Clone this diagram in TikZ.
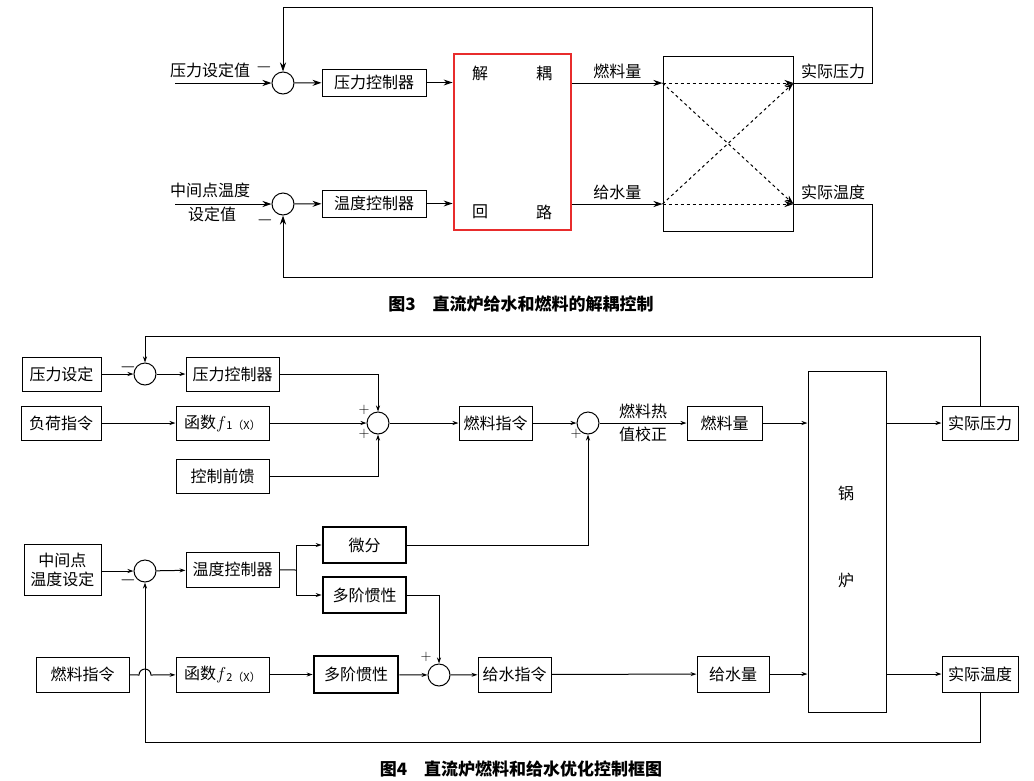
\documentclass[tikz,border=0pt]{standalone}
\usepackage{fontspec}
\setmainfont{Noto Sans CJK SC}
\usetikzlibrary{arrows.meta,calc}
\definecolor{decred}{RGB}{232,44,44}
\tikzset{every picture/.style={line width=1pt}}
\tikzset{
  blk/.style={draw,inner sep=0,minimum height=34},
  thk/.style={blk,line width=2.6pt},
  sumc/.style={circle,draw,inner sep=0,minimum size=22},
  arr/.style={-{Stealth[length=9pt,width=6pt]}},
  arrs/.style={-{Stealth[length=6pt,width=4pt]}},
  sgn/.style={inner sep=0,font=\fontsize{14}{14}\selectfont},
  neg/.style={inner sep=0,font=\fontsize{20}{20}\selectfont},
  captxt/.style={font=\fontsize{17}{20}\selectfont\bfseries}
}

\begin{document}
\begin{tikzpicture}[x=1pt,y=-1pt,font=\fontsize{16}{18}\selectfont]
\useasboundingbox (0,0) rectangle (1034,780);

\node[sumc] (s1) at (283,83) {};
\node[sumc] (s2) at (283,204) {};
\node[blk,minimum width=104,minimum height=27] (pc3) at (374,82.5) {压力控制器};
\node[blk,minimum width=104,minimum height=27] (tc3) at (374,203.5) {温度控制器};
\node[draw=decred,line width=2.8pt,minimum width=117,minimum height=176,inner sep=0] (dec) at (512.5,142) {};
\node at (480,73) {解};
\node at (544,73) {耦};
\node at (480,212) {回};
\node at (544,212) {路};
\node[draw,minimum width=130,minimum height=175,inner sep=0] (proc) at (728,143.5) {};
\coordinate (in1) at (175,83);
\coordinate (in2) at (175,204);
\coordinate (pin1) at (proc.west |- s1);
\coordinate (pin2) at (proc.west |- s2);
\coordinate (pout1) at (proc.east |- s1);
\coordinate (pout2) at (proc.east |- s2);
\coordinate (fb1) at (283,7);
\coordinate (fb2) at (283,277);
\node at (210,70) {压力设定值};
\node at (210,190) {中间点温度};
\node at (212,214) {设定值};
\node[neg] at (264,67) {$-$};
\node[neg] at (265,220) {$-$};
\draw[arr] (in1) -- (s1);
\draw[arr] (in2) -- (s2);
\draw[arr] (s1) -- (pc3);
\draw[arr] (s2) -- (tc3);
\draw[arr] (pc3) -- (dec.west |- pc3);
\draw[arr] (tc3) -- (dec.west |- tc3);
\draw[arr] (dec.east |- s1) -- node[above]{燃料量} (pin1);
\draw[arr] (dec.east |- s2) -- node[above]{给水量} (pin2);
\draw[arr,dashed] (pin1) -- (pout1);
\draw[arr,dashed] (pin1) -- (pout2);
\draw[arr,dashed] (pin2) -- (pout1);
\draw[arr,dashed] (pin2) -- (pout2);
\draw[arr] (pout1) -- node[above]{实际压力} ++(79,0) |- (fb1) -- (s1.north);
\draw[arr] (pout2) -- node[above]{实际温度} ++(79,0) |- (fb2) -- (s2.south);
\node[captxt] (cap3) at (521,304) {图3\hspace{1em}直流炉给水和燃料的解耦控制};

\node[blk,minimum width=79] (ps) at (61.5,374) {压力设定};
\node[sumc] (s3) at (145,374) {};
\node[blk,minimum width=93] (pc) at (232.5,374) {压力控制器};
\node[blk,minimum width=80] (load) at (61,423) {负荷指令};
\node[blk,minimum width=93] (f1) at (222.5,423) {函数$f$\raisebox{-1.5pt}{\fontsize{11}{11}\selectfont 1（X）}};
\node[blk,minimum width=93] (ff) at (222.5,476) {控制前馈};
\node[sumc] (s4) at (378,423) {};
\node[blk,minimum width=73] (fc) at (495.5,423) {燃料指令};
\node[sumc] (s5) at (588,423) {};
\node[blk,minimum width=75] (fq) at (724.5,423) {燃料量};
\node[draw,minimum width=78,minimum height=341,inner sep=0] (blr) at (847,541.5) {};
\node at (846,493) {锅};
\node at (846,580) {炉};
\node[blk,minimum width=76] (ap) at (980,423) {实际压力};
\node[blk,minimum width=77,minimum height=51,align=center,font=\fontsize{16}{19}\selectfont] (ts) at (62.5,569.5) {中间点\\温度设定};
\node[sumc] (s6) at (145,571) {};
\node[blk,minimum width=93,minimum height=35] (tc) at (232.5,569.5) {温度控制器};
\node[thk,minimum width=83,minimum height=36] (dif) at (364.5,545) {微分};
\node[thk,minimum width=83,minimum height=36] (lag1) at (364.5,595) {多阶惯性};
\node[blk,minimum width=93,minimum height=35] (fi2) at (82.5,674.5) {燃料指令};
\node[blk,minimum width=93,minimum height=35] (f2) at (222.5,674.5) {函数$f$\raisebox{-1.5pt}{\fontsize{11}{11}\selectfont 2（X）}};
\node[thk,minimum width=84,minimum height=37] (lag2) at (356,674.5) {多阶惯性};
\node[sumc] (s7) at (439,675) {};
\node[blk,minimum width=73,minimum height=35] (wc) at (514.5,674.5) {给水指令};
\node[blk,minimum width=72,minimum height=36] (wq) at (733,674) {给水量};
\node[blk,minimum width=76,minimum height=36] (at) at (980,674) {实际温度};
\coordinate (sp) at (296,570);
\coordinate (hop) at (145,675);
\coordinate (fb4) at (145,336);
\coordinate (fb6) at (145,742);
\node[neg] at (128,367) {$-$};
\node[neg] at (128,580) {$-$};
\node[sgn] at (364,410) {$+$};
\node[sgn] at (364,434) {$+$};
\node[sgn] at (576,434) {$+$};
\node[sgn] at (426,657) {$+$};
\draw[arrs] (ps) -- (s3);
\draw[arrs] (s3) -- (pc);
\draw[arrs] (pc) -| (s4);
\draw[arrs] (load) -- (f1);
\draw[arrs] (f1) -- (s4);
\draw[arrs] (ff) -| (s4);
\draw[arrs] (s4) -- (fc);
\draw[arrs] (fc) -- (s5);
\draw[arrs] (s5) -- node[above]{燃料热} node[below]{值校正} (fq);
\draw[arrs] (fq) -- (blr.west |- fq);
\draw[arrs] (blr.east |- ap) -- (ap);
\draw[arrs] (ap.north) |- (fb4) -- (s3.north);
\draw[arrs] (ts.east |- s6) -- (s6);
\draw[arrs] (s6) -- (tc);
\draw (tc) -- (sp);
\draw[arrs] (sp) |- (dif);
\draw[arrs] (sp) |- (lag1);
\draw[arrs] (dif) -| (s5);
\draw[arrs] (lag1) -| (s7);
\draw[arrs] (fi2) -- ($(hop)+(-6,0)$) arc[start angle=180,end angle=0,radius=6pt] -- (f2);
\draw[arrs] (f2) -- (lag2);
\draw[arrs] (lag2) -- (s7);
\draw[arrs] (s7) -- (wc);
\draw[arrs] (wc) -- (wq);
\draw[arrs] (wq) -- (blr.west |- wq);
\draw[arrs] (blr.east |- at) -- (at);
\draw[arrs] (at.south) |- (fb6) -- (s6.south);
\node[captxt] (cap4) at (521,769) {图4\hspace{1em}直流炉燃料和给水优化控制框图};
\end{tikzpicture}
\end{document}
